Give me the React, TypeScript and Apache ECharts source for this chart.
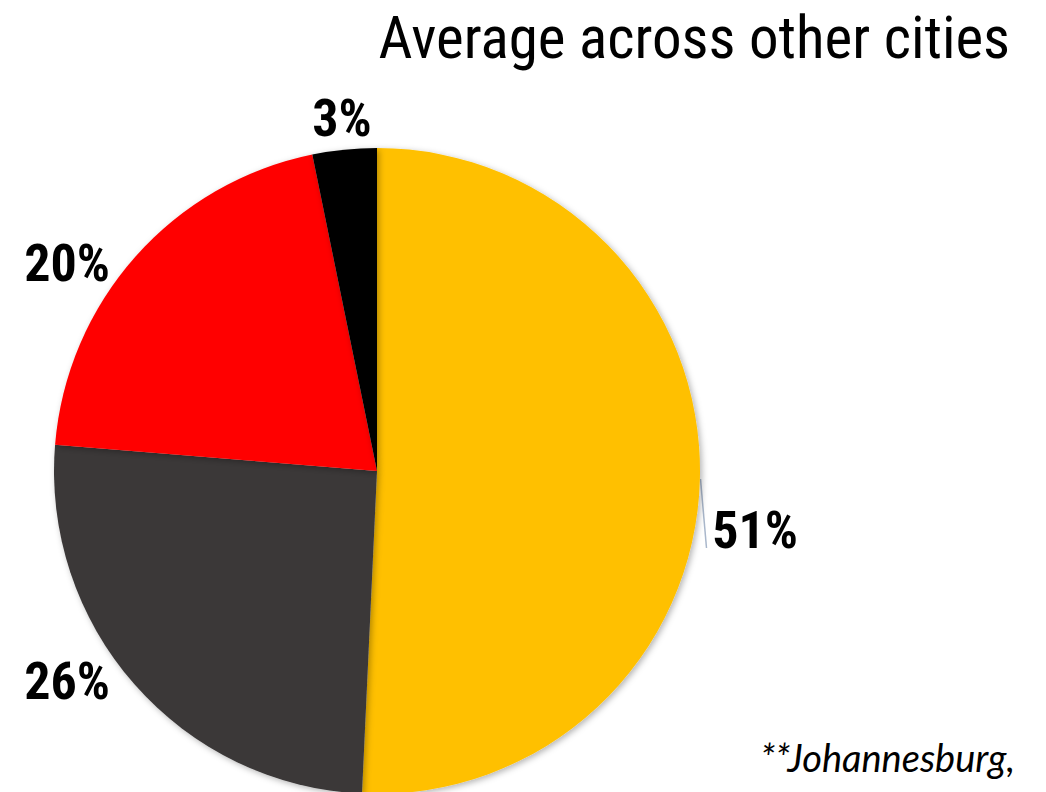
import React, { useEffect, useRef } from "react";
import * as echarts from "echarts";

const categories = ["Segment A", "Segment B", "Segment C", "Segment D"];
const values = [50.74, 25.56, 20.49, 3.21];
const labels = ["51%", "26%", "20%", "3%"];
const colors = ["#FFC000", "#3B3838", "#FF0000", "#000000"];
const labelPos = [
  [755, 530],
  [67, 681],
  [67, 263],
  [342, 118],
];

const NARROW = "'Liberation Sans Narrow', 'Arial Narrow', 'Roboto Condensed', sans-serif";

export default function App() {
  const ref = useRef<HTMLDivElement>(null);
  useEffect(() => {
    if (!ref.current) return;
    const chart = echarts.init(ref.current, undefined, { renderer: "svg" });
    chart.setOption({
      animation: false,
      backgroundColor: "#ffffff",
      title: {
        text: "Average across other cities",
        right: 31,
        top: 3,
        textStyle: {
          fontFamily: NARROW,
          fontWeight: "normal",
          fontSize: 59,
          color: "#000",
        },
      },
      graphic: [
        {
          type: "line",
          shape: { x1: 700.5, y1: 479, x2: 706.5, y2: 548 },
          style: { stroke: "#A9B7CB", lineWidth: 1.5 },
        },
        {
          type: "text",
          right: 31,
          top: 738,
          style: {
            text: "**Johannesburg,",
            fontFamily: "Lato, 'Open Sans', sans-serif",
            fontStyle: "italic",
            fontSize: 38,
            fill: "#000",
          },
        },
      ],
      series: [
        {
          type: "pie",
          center: [377, 471],
          radius: 323,
          startAngle: 90,
          clockwise: true,
          data: categories.map((c, i) => ({
            name: c,
            value: values[i],
            itemStyle: { color: colors[i] },
            label: { formatter: labels[i] },
          })),
          itemStyle: {
            shadowBlur: 6,
            shadowColor: "rgba(0,0,0,0.3)",
            shadowOffsetX: 2,
            shadowOffsetY: 2,
          },
          label: {
            show: true,
            position: "outside",
            overflow: "none",
            fontFamily: NARROW,
            fontWeight: "bold",
            fontSize: 52,
            color: "#000",
          },
          labelLine: { show: false },
          labelLayout: (params: any) => {
            const p = labelPos[params.dataIndex];
            return { x: p[0], y: p[1], align: "center", verticalAlign: "middle" };
          },
          emphasis: { disabled: true },
        },
      ],
    });
    return () => chart.dispose();
  }, []);
  return (
    <div
      ref={ref}
      style={{ position: "fixed", left: 0, top: 0, width: 1046, height: 792 }}
    />
  );
}
